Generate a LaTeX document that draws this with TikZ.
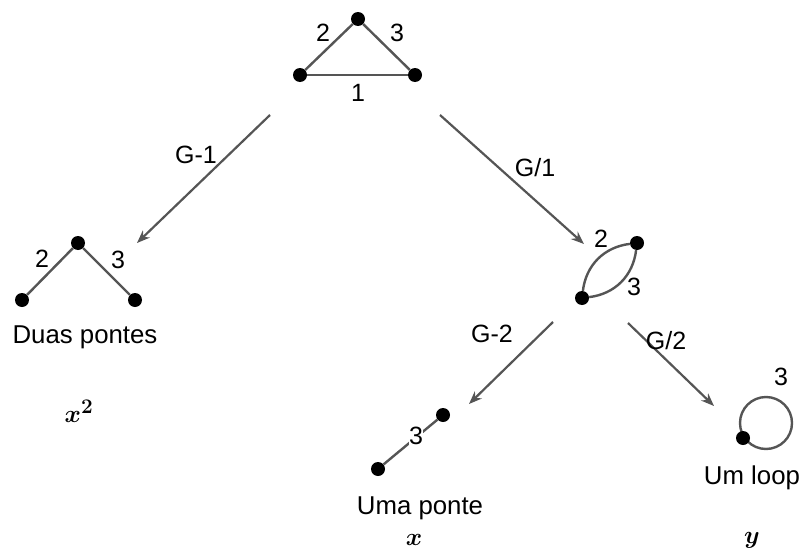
\documentclass[tikz,border=0pt]{standalone}
\usepackage{fontspec}
\usepackage{amsmath,amsbsy}
\setmainfont{Liberation Sans}
\usetikzlibrary{arrows.meta}
\definecolor{edgegray}{RGB}{85,85,85}
\tikzset{
  vert/.style={circle,fill=black,inner sep=0pt,minimum size=14pt},
  edge/.style={draw=edgegray,line width=2.4pt},
  arr/.style={draw=edgegray,line width=2.2pt,-{Stealth[length=13pt,width=10pt]}},
  lbl/.style={font=\fontsize{25}{27}\selectfont,inner sep=1pt},
  txt/.style={font=\fontsize{25.8}{28}\selectfont,inner sep=1pt},
  mth/.style={font=\fontsize{28}{30}\selectfont,inner sep=1pt}
}
\begin{document}
\begin{tikzpicture}[x=1pt,y=-1pt]
\useasboundingbox (0,0) rectangle (801,554);
% top triangle
\node[vert] (t1) at (358,19) {};
\node[vert] (t2) at (300,75) {};
\node[vert] (t3) at (415,75) {};
\draw[edge] (t1) -- (t2);
\draw[edge] (t1) -- (t3);
\draw[edge] (t2) -- (t3);
\node[lbl] (t2l) at (323,33) {2};
\node[lbl] (t3l) at (397,33) {3};
\node[lbl] (t1l) at (358,93) {1};
% arrows level 1
\coordinate (a1s) at (270,115);
\coordinate (a1e) at (137,243);
\draw[arr] (a1s) -- (a1e);
\node[lbl] (g1) at (196,155) {G-1};
\coordinate (a2s) at (440,115);
\coordinate (a2e) at (584,244);
\draw[arr] (a2s) -- (a2e);
\node[lbl] (g1b) at (535,168) {G/1};
% Duas pontes
\node[vert] (d1) at (78,243) {};
\node[vert] (d2) at (22,300) {};
\node[vert] (d3) at (135,300) {};
\draw[edge] (d1) -- (d2);
\draw[edge] (d1) -- (d3);
\node[lbl] (d2l) at (42,259) {2};
\node[lbl] (d3l) at (118,260) {3};
\node[txt] (dt) at (85,337) {Duas pontes};
\node[mth] (dm) at (79,411) {$\boldsymbol{x}^{\boldsymbol{2}}$};
% double edge
\node[vert] (e1) at (637,243) {};
\node[vert] (e2) at (582,298) {};
\draw[edge] (e2) to[bend left=38] (e1);
\draw[edge] (e2) to[bend right=38] (e1);
\node[lbl] (e1l) at (601,239) {2};
\node[lbl] (e2l) at (634,287) {3};
% arrows level 2
\coordinate (b1s) at (553,322);
\coordinate (b1e) at (469,404);
\draw[arr] (b1s) -- (b1e);
\node[lbl] (g2) at (492,334) {G-2};
\coordinate (b2s) at (628,323);
\coordinate (b2e) at (714,406);
\draw[arr] (b2s) -- (b2e);
\node[lbl] (g2b) at (666,341) {G/2};
% Uma ponte
\node[vert] (u1) at (443,415) {};
\node[vert] (u2) at (378,469) {};
\draw[edge] (u1) -- (u2);
\node[lbl,fill=white,inner sep=0pt] (ul) at (416,436) {3};
\node[txt] (ut) at (420,508) {Uma ponte};
\node[mth] (um) at (414,540) {$\boldsymbol{x}$};
% loop
\coordinate (lc) at (766,423);
\draw[edge] (lc) circle (26);
\node[vert] (l1) at (743,438) {};
\node[lbl] (ll) at (781,377) {3};
\node[txt] (lt) at (752,478) {Um loop};
\node[mth] (lm) at (752,540) {$\boldsymbol{y}$};
\end{tikzpicture}
\end{document}
